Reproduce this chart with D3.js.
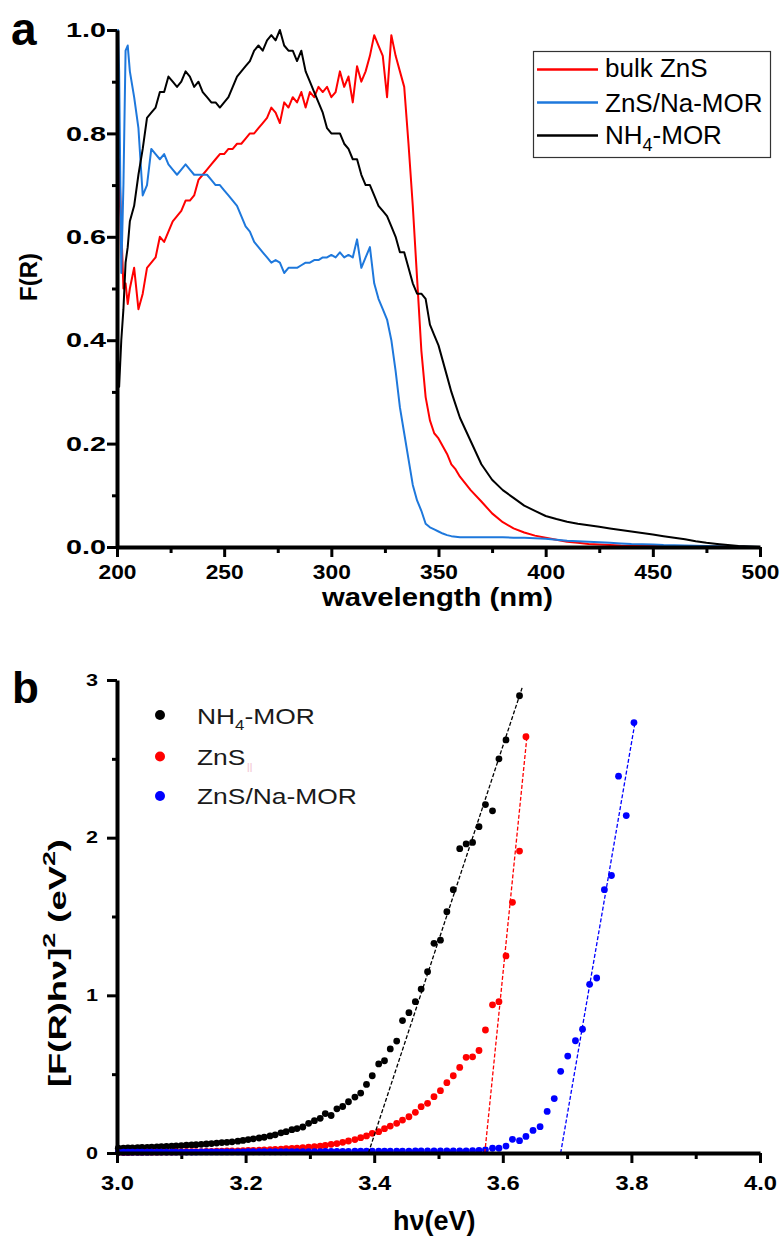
<!DOCTYPE html>
<html><head><meta charset="utf-8">
<script src="https://cdn.jsdelivr.net/npm/d3@7"></script>
<style>
html,body{margin:0;padding:0;background:#fff;}
svg{display:block;}
text{font-family:"Liberation Sans",Arial,Helvetica,sans-serif;}
</style></head>
<body>
<svg id="chart" width="783" height="1237"></svg>
<script>
// ---------- Panel a data ----------
const wavelength = [200,200.5,201,202,203,204,205,
206,208,210,212,214,216,218,220,222,224,226,228,230,232,234,236,238,240,242,244,246,248,250,252,254,256,258,260,262,264,266,268,270,272,274,276,278,280,282,284,286,288,290,292,294,296,298,300,302,304,306,308,310,312,314,316,318,320,322,324,326,328,330,332,334,336,338,340,342,344,346,348,350,352,354,356,358,360,
365,370,375,380,385,390,395,400,405,410,415,420,425,430,435,440,445,450,455,460,465,470,475,480,485,490,495,500];

const fR_bulkZnS = [0.50,0.56,0.75,0.62,0.50,0.51,0.47,
0.50,0.54,0.46,0.49,0.54,0.55,0.56,0.60,0.59,0.61,
0.63,0.64,0.65,0.67,0.67,0.68,0.71,0.72,0.73,0.74,
0.75,0.76,0.76,0.77,0.77,0.78,0.78,0.79,0.80,0.80,
0.81,0.82,0.83,0.85,0.84,0.82,0.86,0.85,0.87,0.86,
0.88,0.85,0.88,0.87,0.89,0.88,0.89,0.87,0.88,0.92,
0.89,0.91,0.86,0.93,0.90,0.92,0.95,0.99,0.97,0.95,
0.87,0.99,0.95,0.92,0.89,0.78,0.66,0.52,0.38,0.29,
0.245,0.22,0.21,0.195,0.18,0.16,0.15,0.136,
0.11,0.088,0.065,0.048,0.036,0.028,0.022,0.018,0.014,0.010,0.008,0.006,0.005,0.004,0.003,0.0025,0.002,0.0018,0.0015,0.0012,0.001,0.0008,0.0006,0.0005,0.0004,0.0003,0.0002,0.0];

const fR_ZnSNaMOR = [0.62,1.00,0.92,0.53,0.70,0.96,0.97,
0.92,0.87,0.81,0.68,0.70,0.77,0.76,0.75,0.76,0.74,
0.73,0.72,0.73,0.74,0.73,0.72,0.72,0.72,0.72,0.71,
0.70,0.70,0.69,0.68,0.67,0.66,0.64,0.62,0.61,0.59,
0.58,0.57,0.56,0.55,0.555,0.55,0.53,0.54,0.54,0.54,
0.545,0.55,0.55,0.555,0.555,0.56,0.56,0.565,0.56,0.57,
0.56,0.565,0.56,0.595,0.54,0.56,0.58,0.51,0.48,0.46,
0.44,0.40,0.34,0.27,0.22,0.17,0.12,0.09,0.07,0.045,
0.038,0.034,0.03,0.026,0.023,0.021,0.02,0.019,
0.019,0.019,0.019,0.019,0.018,0.018,0.017,0.016,0.014,0.012,0.011,0.010,0.009,0.008,0.007,0.006,0.0055,0.005,0.004,0.0035,0.003,0.0025,0.002,0.0015,0.001,0.0008,0.0005,0.0];

const fR_NH4MOR = [0.30,0.36,0.31,0.40,0.46,0.55,0.58,
0.63,0.66,0.72,0.77,0.83,0.84,0.85,0.88,0.88,0.91,
0.90,0.89,0.90,0.92,0.91,0.89,0.90,0.88,0.87,0.86,
0.86,0.85,0.86,0.87,0.89,0.91,0.92,0.93,0.94,0.96,
0.97,0.96,0.98,0.99,0.98,1.00,0.97,0.96,0.96,0.94,
0.96,0.92,0.90,0.88,0.86,0.84,0.81,0.80,0.80,0.80,
0.78,0.77,0.75,0.75,0.72,0.70,0.70,0.68,0.66,0.65,
0.64,0.62,0.60,0.57,0.57,0.54,0.51,0.49,0.49,0.48,
0.43,0.41,0.39,0.36,0.33,0.30,0.275,0.25,
0.205,0.16,0.13,0.11,0.095,0.08,0.07,0.06,0.054,0.049,0.045,0.042,0.039,0.036,0.033,0.030,0.027,0.024,0.021,0.018,0.015,0.011,0.008,0.006,0.004,0.002,0.001,0.0];

const seriesA = ["bulk ZnS","ZnS/Na-MOR","NH4-MOR"];
const xTicksA = [200,250,300,350,400,450,500];
const yTicksA = [0.0,0.2,0.4,0.6,0.8,1.0];

// ---------- Panel b data ----------
const energy = [3.002,3.010,3.017,3.024,3.032,3.039,3.047,3.054,3.062,3.069,
3.077,3.085,3.092,3.100,3.108,3.116,3.123,3.131,3.139,3.147,
3.155,3.163,3.171,3.179,3.188,3.196,3.204,3.212,3.221,3.229,
3.238,3.246,3.255,3.263,3.272,3.280,3.289,3.298,3.307,3.316,
3.324,3.333,3.342,3.351,3.360,3.370,3.379,3.388,3.397,3.407,
3.416,3.425,3.435,3.444,3.454,3.464,3.473,3.483,3.493,3.503,
3.513,3.523,3.533,3.543,3.553,3.563,3.573,3.584,3.594,3.605,
3.615,3.626,3.636,3.647,3.658,3.669,3.680,3.690,3.701,3.713,
3.724,3.735,3.746,3.758,3.769,3.780,3.792,3.804];

const tauc_NH4MOR = [0.030,0.031,0.032,0.033,0.034,0.035,0.036,0.037,0.039,0.040,
0.042,0.044,0.045,0.047,0.049,0.051,0.053,0.055,0.057,0.060,
0.063,0.066,0.068,0.071,0.075,0.080,0.085,0.090,0.095,0.100,
0.108,0.115,0.128,0.135,0.148,0.155,0.165,0.188,0.205,0.220,
0.250,0.238,0.280,0.295,0.325,0.355,0.380,0.435,0.490,0.565,
0.585,0.660,0.710,0.840,0.890,0.960,1.040,1.150,1.330,1.350,
1.530,1.670,1.930,1.960,1.970,2.070,2.210,2.170,2.500,2.620,
null,2.900];

const tauc_ZnS = [0.003,0.003,0.003,0.004,0.004,0.004,0.005,0.005,0.005,0.006,
0.006,0.006,0.007,0.007,0.008,0.008,0.009,0.009,0.010,0.010,
0.011,0.012,0.013,0.013,0.014,0.015,0.016,0.017,0.018,0.020,
0.021,0.023,0.025,0.027,0.029,0.031,0.034,0.037,0.040,0.044,
0.048,0.055,0.060,0.068,0.076,0.085,0.097,0.108,0.125,0.135,
0.154,0.171,0.188,0.209,0.230,0.258,0.294,0.315,0.357,0.395,
0.446,0.490,0.543,0.607,0.610,0.650,0.780,0.940,0.960,1.250,
1.590,1.915,2.640];

const tauc_ZnSNaMOR = [0.005,0.005,0.005,0.005,0.005,0.005,0.005,0.006,0.006,0.006,
0.006,0.006,0.006,0.006,0.006,0.006,0.006,0.007,0.007,0.007,
0.007,0.007,0.007,0.007,0.007,0.007,0.008,0.008,0.008,0.008,
0.008,0.008,0.008,0.008,0.009,0.009,0.009,0.009,0.009,0.009,
0.010,0.010,0.010,0.010,0.010,0.011,0.011,0.011,0.011,0.011,
0.012,0.012,0.012,0.012,0.012,0.013,0.013,0.013,0.013,0.013,
0.013,0.014,0.014,0.014,0.015,0.017,0.020,0.030,0.030,0.044,
0.087,0.078,0.105,0.143,0.167,0.264,0.345,0.518,0.615,0.712,
0.785,1.070,1.110,1.670,1.760,2.390,2.140,2.730];

const fit_NH4MOR = [[3.391,0],[3.630,2.95]];
const fit_ZnS = [[3.572,0],[3.638,2.66]];
const fit_ZnSNaMOR = [[3.690,0],[3.806,2.74]];

const xTicksB = [3.0,3.2,3.4,3.6,3.8,4.0];
const yTicksB = [0,1,2,3];

// ---------- drawing ----------
const svg = d3.select("#chart");
const FONT = '"Liberation Sans",Arial,Helvetica,sans-serif';
const colA = {red:"#ff0000", blue:"#1e78dc", black:"#000000"};
const colB = {black:"#000000", red:"#ff0000", blue:"#0000ff"};

function styleAxis(g, w){
  g.select(".domain").attr("stroke","#000").attr("stroke-width",w);
  g.selectAll(".tick line").attr("stroke","#000").attr("stroke-width",3);
}

// ===== Panel a =====
const xA = d3.scaleLinear().domain([200,500]).range([117,760]);
const yA = d3.scaleLinear().domain([0,1]).range([547,30]);

const lineA = d3.line().x((d,i)=>xA(wavelength[i])).y(d=>yA(d));
[[fR_bulkZnS,colA.red],[fR_ZnSNaMOR,colA.blue],[fR_NH4MOR,colA.black]].forEach(([vals,c])=>{
  svg.append("path").datum(vals).attr("d",lineA).attr("fill","none")
    .attr("stroke",c).attr("stroke-width",2).attr("stroke-linejoin","round");
});

// minor ticks a
svg.append("g").attr("transform","translate(117,0)")
  .call(d3.axisLeft(yA).tickValues([0.1,0.3,0.5,0.7,0.9]).tickSize(5).tickFormat("").tickSizeOuter(0))
  .call(g=>{g.select(".domain").remove(); g.selectAll(".tick line").attr("stroke","#000").attr("stroke-width",3);});
svg.append("g").attr("transform","translate(0,547)")
  .call(d3.axisBottom(xA).tickValues([225,275,325,375,425,475]).tickSize(6).tickFormat("").tickSizeOuter(0))
  .call(g=>{g.select(".domain").remove(); g.selectAll(".tick line").attr("stroke","#000").attr("stroke-width",3);});

const gyA = svg.append("g").attr("transform","translate(117,0)")
  .call(d3.axisLeft(yA).tickValues(yTicksA).tickSize(10).tickPadding(1).tickSizeOuter(0).tickFormat(d3.format(".1f")));
styleAxis(gyA,4);
gyA.selectAll(".tick text").attr("font-family",FONT).attr("font-weight","bold").attr("font-size",21)
  .attr("fill","#000").attr("textLength",40).attr("lengthAdjust","spacingAndGlyphs");

const gxA = svg.append("g").attr("transform","translate(0,547)")
  .call(d3.axisBottom(xA).tickValues(xTicksA).tickSize(10).tickPadding(7).tickSizeOuter(0).tickFormat(d3.format("d")));
styleAxis(gxA,4);
gxA.selectAll(".tick text").attr("font-family",FONT).attr("font-weight","bold").attr("font-size",21)
  .attr("fill","#000").attr("textLength",38).attr("lengthAdjust","spacingAndGlyphs");

// axis titles a
svg.append("text").attr("transform","translate(37,277) rotate(-90)").attr("text-anchor","middle")
  .attr("font-weight","bold").attr("font-size",24).text("F(R)");
svg.append("text").attr("x",437.5).attr("y",606).attr("text-anchor","middle")
  .attr("font-weight","bold").attr("font-size",26).attr("textLength",231).attr("lengthAdjust","spacingAndGlyphs")
  .text("wavelength (nm)");
svg.append("text").attr("x",11).attr("y",45).attr("font-weight","bold").attr("font-size",46).text("a");

// legend a
svg.append("rect").attr("x",533.5).attr("y",51.5).attr("width",237).attr("height",106)
  .attr("fill","#fff").attr("stroke","#333").attr("stroke-width",1.2);
const legA = [[seriesA[0],colA.red,69.5,77],[seriesA[1],colA.blue,102.5,111.5],[seriesA[2],colA.black,135.5,143.5]];
legA.forEach(([name,c,ly,ty],i)=>{
  svg.append("line").attr("x1",537).attr("x2",598).attr("y1",ly).attr("y2",ly).attr("stroke",c).attr("stroke-width",2.6);
  const t = svg.append("text").attr("x",605).attr("y",ty).attr("font-size",26).attr("fill","#000");
  if(name==="NH4-MOR"){
    t.append("tspan").text("NH");
    t.append("tspan").attr("font-size",18).attr("dy",7).text("4");
    t.append("tspan").attr("dy",-7).text("-MOR");
  } else t.text(name);
});

// ===== Panel b =====
const xB = d3.scaleLinear().domain([3,4]).range([117,760]);
const yB = d3.scaleLinear().domain([0,3]).range([1153,680]);

svg.append("g").attr("transform","translate(117,0)")
  .call(d3.axisLeft(yB).tickValues([0.5,1.5,2.5]).tickSize(5).tickFormat("").tickSizeOuter(0))
  .call(g=>{g.select(".domain").remove(); g.selectAll(".tick line").attr("stroke","#000").attr("stroke-width",3);});
svg.append("g").attr("transform","translate(0,1153)")
  .call(d3.axisBottom(xB).tickValues([3.1,3.3,3.5,3.7,3.9]).tickSize(6).tickFormat("").tickSizeOuter(0))
  .call(g=>{g.select(".domain").remove(); g.selectAll(".tick line").attr("stroke","#000").attr("stroke-width",3);});

// points
const seriesB = [[tauc_NH4MOR,colB.black],[tauc_ZnS,colB.red],[tauc_ZnSNaMOR,colB.blue]];
seriesB.forEach(([vals,c])=>{
  const pts = vals.map((v,i)=>[energy[i],v]).filter(d=>d[1]!==null);
  svg.append("g").selectAll("circle").data(pts).join("circle")
    .attr("cx",d=>xB(d[0])).attr("cy",d=>yB(d[1])).attr("r",3.4).attr("fill",c);
});

// fit lines
const lineB = d3.line().x(d=>xB(d[0])).y(d=>yB(d[1]));
[[fit_NH4MOR,colB.black],[fit_ZnS,colB.red],[fit_ZnSNaMOR,colB.blue]].forEach(([f,c])=>{
  svg.append("path").datum(f).attr("d",lineB).attr("fill","none").attr("stroke",c)
    .attr("stroke-width",1.3).attr("stroke-dasharray","4,2");
});

const gyB = svg.append("g").attr("transform","translate(117,0)")
  .call(d3.axisLeft(yB).tickValues(yTicksB).tickSize(10).tickPadding(9).tickSizeOuter(0).tickFormat(d3.format("d")));
styleAxis(gyB,4);
gyB.selectAll(".tick text").attr("font-family",FONT).attr("font-weight","bold").attr("font-size",16)
  .attr("fill","#000").attr("textLength",12).attr("lengthAdjust","spacingAndGlyphs");

const gxB = svg.append("g").attr("transform","translate(0,1153)")
  .call(d3.axisBottom(xB).tickValues(xTicksB).tickSize(10).tickPadding(12).tickSizeOuter(0).tickFormat(d3.format(".1f")));
styleAxis(gxB,4);
gxB.selectAll(".tick text").attr("font-family",FONT).attr("font-weight","bold").attr("font-size",21)
  .attr("fill","#000").attr("textLength",33).attr("lengthAdjust","spacingAndGlyphs");

// axis titles b
const yl = svg.append("text").attr("transform","translate(66,963) rotate(-90)").attr("text-anchor","middle")
  .attr("font-weight","bold").attr("font-size",23)
  .attr("textLength",248).attr("lengthAdjust","spacingAndGlyphs");
yl.append("tspan").text("[F(R)h\u03bd]");
yl.append("tspan").attr("font-size",17).attr("dy",-11).text("2");
yl.append("tspan").attr("dy",11).text(" (eV");
yl.append("tspan").attr("font-size",17).attr("dy",-11).text("2");
yl.append("tspan").attr("dy",11).text(")");

svg.append("text").attr("x",393).attr("y",1230).attr("font-weight","bold").attr("font-size",27)
  .text("h\u03bd(eV)");
svg.append("text").attr("x",12).attr("y",703).attr("font-weight","bold").attr("font-size",44).text("b");

// legend b
const legB = [["NH4-MOR",colB.black,715,724],["ZnS",colB.red,756.5,765],["ZnS/Na-MOR",colB.blue,796,804]];
legB.forEach(([name,c,cy,ty])=>{
  svg.append("circle").attr("cx",160).attr("cy",cy).attr("r",5).attr("fill",c);
  const t = svg.append("text").attr("transform",`translate(197,${ty}) scale(1.2,1)`).attr("font-size",22).attr("fill","#1a1a1a");
  if(name==="NH4-MOR"){
    t.append("tspan").text("NH");
    t.append("tspan").attr("font-size",14).attr("dy",6).text("4");
    t.append("tspan").attr("dy",-6).text("-MOR");
  } else t.text(name);
});
svg.append("text").attr("x",247).attr("y",772).attr("font-size",12).attr("fill","#f4c9d6").text("ll");
</script>
</body></html>
